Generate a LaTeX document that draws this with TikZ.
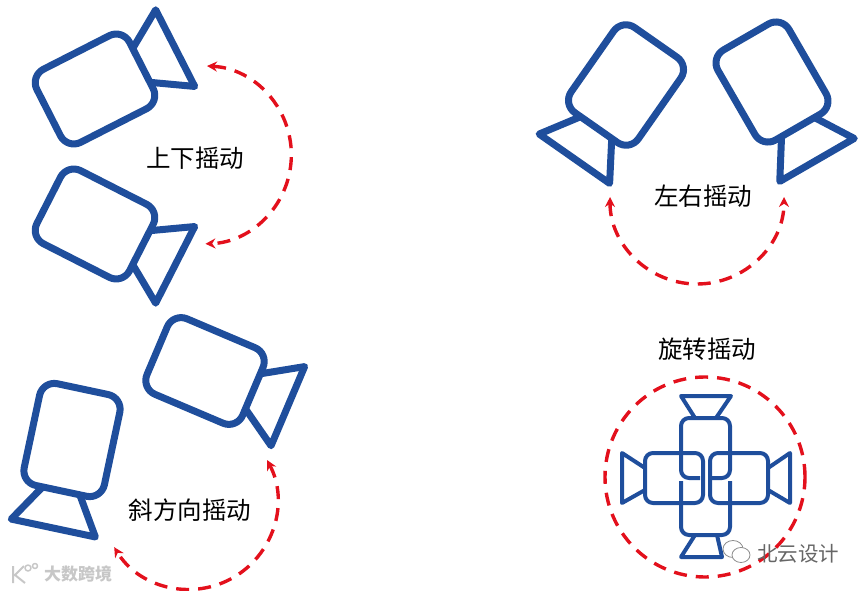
\documentclass[tikz,border=0pt]{standalone}
\usepackage{fontspec}
\usepackage{xcolor}
\usetikzlibrary{arrows.meta}
\setmainfont{Noto Sans CJK SC}
\definecolor{camblue}{HTML}{1F4E9C}
\definecolor{shakered}{HTML}{E3101C}
\begin{document}
\begin{tikzpicture}[
    x=1pt, y=1pt,
    line join=round,
    camline/.style={draw=camblue, line width=7pt},
    smallcam/.style={draw=camblue, line width=4pt},
    shakearc/.style={draw=shakered, line width=3.4pt, dash pattern=on 13pt off 9pt},
    arctips/.style={{Stealth[length=10pt,width=10pt]}-{Stealth[length=10pt,width=10pt]}},
    label/.style={font=\fontsize{24.5}{26}\selectfont, inner sep=0pt},
    mark/.pic={
        \draw[camline, rounded corners=15pt] (-52,-41) rectangle (52,41);
        \draw[camline] (52,19) -- (90,43) -- (90,-43) -- (52,-19);
    }
]
\useasboundingbox (0,0) rectangle (867,-591);

% left and top right cameras
\pic at (95,-89) [rotate=27] {mark};
\pic at (95,-224) [rotate=-27] {mark};
\pic at (205,-371) [rotate=-23] {mark};
\pic at (72,-440) [rotate=-102] {mark};
\pic at (626,-85) [rotate=-125] {mark};
\pic at (772,-82) [rotate=-60] {mark};

% rotating set, four small cameras
\draw[smallcam, rounded corners=8pt] (710,-453) rectangle (768,-503);
\draw[smallcam] (768,-468) -- (790,-453) -- (790,-503) -- (768,-490);
\draw[smallcam, rounded corners=8pt] (645,-453) rectangle (703,-503);
\draw[smallcam] (645,-468) -- (622,-453) -- (622,-503) -- (645,-490);
\draw[smallcam, rounded corners=8pt] (700,-478) -- (681,-478) -- (681,-418) -- (730,-418) -- (730,-478) -- (712,-478);
\draw[smallcam] (695,-418) -- (681,-396) -- (731,-396) -- (716,-418);
\draw[smallcam, rounded corners=8pt] (681,-481) -- (681,-535) -- (730,-535) -- (730,-481);
\draw[smallcam] (695,-535) -- (681,-557) -- (722,-557) -- (717,-535);

% swing arcs
\coordinate (updown) at (207,-66);
\coordinate (leftright) at (610,-197);
\coordinate (slant) at (267,-460);
\coordinate (spin) at (805,-477);
\draw[shakearc, arctips] (updown) arc[start angle=87, end angle=-88, radius=89pt];
\draw[shakearc, arctips] (leftright) arc[start angle=180, end angle=360, radius=87pt];
\draw[shakearc, arctips] (slant) arc[start angle=28, end angle=-148.6, radius=88pt];
\draw[shakearc] (spin) arc[start angle=0, end angle=360, radius=100pt];

\node[label] (updownlabel) at (195,-158) {上下摇动};
\node[label] (leftrightlabel) at (703,-196) {左右摇动};
\node[label] (spinlabel) at (707,-349) {旋转摇动};
\node[label] (slantlabel) at (190,-510) {斜方向摇动};

% watermarks
\node[font=\fontsize{20.5}{22}\selectfont, text=black!60, inner sep=0pt] (beiyun) at (798,-554) {北云设计};
\draw[black!45, line width=.8pt, fill=white] (733,-549) ellipse (10pt and 8.5pt);
\draw[black!45, line width=.8pt, fill=white] (741,-555) ellipse (9pt and 7.5pt);
\node[font=\fontsize{17}{19}\selectfont\bfseries, text=black!22, inner sep=0pt] (dashu) at (78,-574) {大数跨境};
\draw[black!22, line width=2pt] (13,-566) -- (13,-583) (24,-566) -- (15,-575) -- (25,-583);
\draw[black!22, line width=1.5pt] (28,-568) circle (3pt) (35,-566) circle (2.5pt);
\end{tikzpicture}
\end{document}
